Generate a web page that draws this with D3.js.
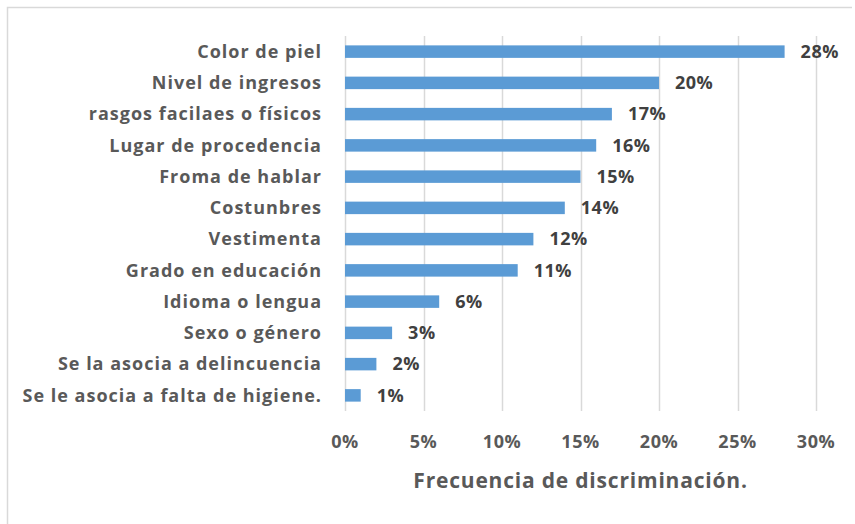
<!DOCTYPE html>
<html>
<head>
<meta charset="utf-8">
<script src="https://cdn.jsdelivr.net/npm/d3@7"></script>
<style>
  html, body { margin: 0; padding: 0; background: #ffffff; overflow: hidden; }
  svg { display: block; }
</style>
</head>
<body>
<div id="chart"></div>
<script>
// Categories, top to bottom
const categories = [
    "Color de piel",
    "Nivel de ingresos",
    "rasgos facilaes o físicos",
    "Lugar de procedencia ",
    "Froma de hablar",
    "Costunbres",
    "Vestimenta",
    "Grado en educación",
    "Idioma o lengua",
    "Sexo o género",
    "Se la asocia a delincuencia",
    "Se le asocia a falta de higiene."
];
// Frequency values (fraction)
const values = [0.28, 0.20, 0.17, 0.16, 0.15, 0.14, 0.12, 0.11, 0.06, 0.03, 0.02, 0.01];
const tickValues = [0, 0.05, 0.10, 0.15, 0.20, 0.25, 0.30];
const axisTitle = "Frecuencia de discriminación.";

const width = 855;
const height = 524;
// plot area in page coordinates
const plot = { left: 345, right: 816, top: 36, bottom: 411 };
const fontFamily = '"Open Sans", "Noto Sans", sans-serif';
const pct = d3.format(".0%");

const data = categories.map((c, i) => ({ category: c, value: values[i] }));

const svg = d3.select("#chart")
    .append("svg")
    .attr("width", width)
    .attr("height", height)
    .attr("font-family", fontFamily)
    .attr("font-weight", "bold");

// chart border (left and top edges are the only ones in view)
svg.append("path")
    .attr("d", `M7.5,${height} V7.5 H852`)
    .attr("fill", "none")
    .attr("stroke", "#d9d9d9")
    .attr("stroke-width", 1.5);

const x = d3.scaleLinear()
    .domain([0, 0.30])
    .range([plot.left, plot.right]);

const y = d3.scaleBand()
    .domain(categories)
    .range([plot.top, plot.bottom])
    .paddingInner(0.6)
    .paddingOuter(0.3);

// vertical gridlines
svg.selectAll(".grid")
    .data(tickValues)
    .join("line")
    .attr("class", "grid")
    .attr("x1", d => Math.round(x(d)) + 0.5)
    .attr("x2", d => Math.round(x(d)) + 0.5)
    .attr("y1", plot.top)
    .attr("y2", plot.bottom)
    .attr("stroke", "#d9d9d9")
    .attr("stroke-width", 1.5);

// x tick labels
svg.selectAll(".x-tick")
    .data(tickValues)
    .join("text")
    .attr("class", "x-tick")
    .attr("x", d => x(d))
    .attr("y", plot.bottom + 37)
    .attr("text-anchor", "middle")
    .attr("fill", "#595959")
    .attr("font-size", 18)
    .attr("letter-spacing", "0.5px")
    .text(d => pct(d));

// y category labels
svg.selectAll(".y-tick")
    .data(categories)
    .join("text")
    .attr("class", "y-tick")
    .attr("x", plot.left - 23)
    .attr("y", d => y(d) + y.bandwidth() / 2)
    .attr("dy", "0.35em")
    .attr("text-anchor", "end")
    .attr("fill", "#595959")
    .attr("font-size", 18)
    .attr("letter-spacing", "1px")
    .text(d => d);

// bars
svg.selectAll(".bar")
    .data(data)
    .join("rect")
    .attr("class", "bar")
    .attr("x", x(0))
    .attr("y", d => y(d.category))
    .attr("width", d => x(d.value) - x(0))
    .attr("height", y.bandwidth())
    .attr("fill", "#5b9bd5");

// value labels
svg.selectAll(".bar-label")
    .data(data)
    .join("text")
    .attr("class", "bar-label")
    .attr("x", d => x(d.value) + 16)
    .attr("y", d => y(d.category) + y.bandwidth() / 2)
    .attr("dy", "0.35em")
    .attr("fill", "#404040")
    .attr("font-size", 18)
    .attr("letter-spacing", "0.5px")
    .text(d => pct(d.value));

// axis title
svg.append("text")
    .attr("text-anchor", "middle")
    .attr("x", (plot.left + plot.right) / 2)
    .attr("y", plot.bottom + 77)
    .attr("fill", "#595959")
    .attr("font-size", 21)
    .attr("letter-spacing", "0.8px")
    .text(axisTitle);
</script>
</body>
</html>
